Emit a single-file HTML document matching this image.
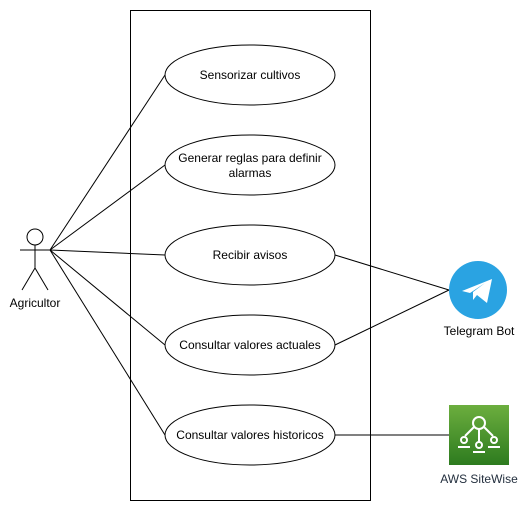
<!DOCTYPE html>
<html><head><style>body{margin:0;background:#fff}</style></head><body>
<svg width="529" height="511" xmlns="http://www.w3.org/2000/svg" font-family="Liberation Sans, sans-serif" font-size="12">
<rect x="130.5" y="10.5" width="240" height="490" fill="none" stroke="#000"/>
<g stroke="#000" fill="none">
<line x1="50" y1="250" x2="165" y2="75"/>
<line x1="50" y1="250" x2="165" y2="165"/>
<line x1="50" y1="250" x2="165" y2="255"/>
<line x1="50" y1="250" x2="165" y2="345"/>
<line x1="50" y1="250" x2="165" y2="435"/>
<line x1="335" y1="255" x2="449" y2="290"/>
<line x1="335" y1="345" x2="449" y2="290"/>
<line x1="335" y1="435" x2="449" y2="435"/>
<circle cx="35" cy="237" r="8"/>
<line x1="35" y1="245" x2="35" y2="268"/>
<line x1="20" y1="250" x2="50" y2="250"/>
<line x1="35" y1="268" x2="22" y2="290"/>
<line x1="35" y1="268" x2="48" y2="290"/>
</g>
<g stroke="#000" fill="#fff">
<ellipse cx="250" cy="75" rx="85" ry="30"/>
<ellipse cx="250" cy="165" rx="85" ry="30"/>
<ellipse cx="250" cy="255" rx="85" ry="30"/>
<ellipse cx="250" cy="345" rx="85" ry="30"/>
<ellipse cx="250" cy="435" rx="85" ry="30"/>
</g>
<g text-anchor="middle" fill="#000">
<text x="250" y="79">Sensorizar cultivos</text>
<text x="250" y="162">Generar reglas para definir</text>
<text x="250" y="177">alarmas</text>
<text x="250" y="259">Recibir avisos</text>
<text x="250" y="349">Consultar valores actuales</text>
<text x="250" y="439">Consultar valores historicos</text>
<text x="35" y="307">Agricultor</text>
<text x="479" y="335">Telegram Bot</text>
<text x="479" y="483" fill="#232f3e">AWS SiteWise</text>
</g>
<circle cx="478" cy="290" r="29" fill="#2aa3e2"/>
<path d="M462 291 L492 279 L487 303 L477 295 L473 300 L473 292 L485 283 L470 293 Z" fill="#fff"/>
<defs><linearGradient id="g" x1="0" y1="1" x2="0" y2="0"><stop offset="0" stop-color="#2d7b1f"/><stop offset="1" stop-color="#6cae3e"/></linearGradient></defs>
<rect x="449" y="405" width="60" height="60" fill="url(#g)"/>
<g stroke="#fff" stroke-width="2" fill="none">
<circle cx="479" cy="423" r="6"/>
<line x1="479" y1="429" x2="479" y2="442"/>
<line x1="474" y1="427" x2="465" y2="436"/>
<line x1="484" y1="427" x2="493" y2="436"/>
<circle cx="464" cy="440" r="3"/><path d="M458 447 h12"/>
<circle cx="479" cy="445" r="3"/><path d="M473 452 h12"/>
<circle cx="494" cy="440" r="3"/><path d="M488 447 h12"/>
</g>
</svg>
</body></html>
